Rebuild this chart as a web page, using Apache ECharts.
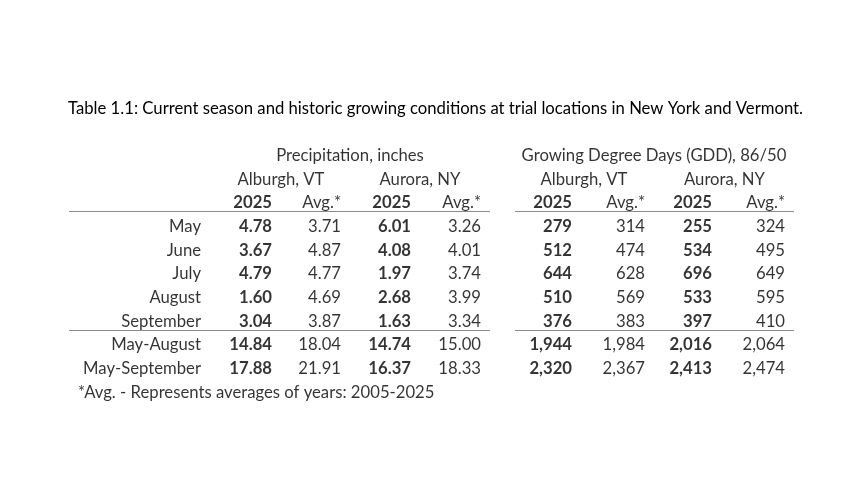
<!DOCTYPE html>
<html>
<head>
<meta charset="utf-8">
<script src="https://cdn.jsdelivr.net/npm/echarts@6/dist/echarts.min.js"></script>
<style>html,body{margin:0;padding:0;background:#fff;}#c{width:864px;height:504px;}</style>
</head>
<body>
<div id="c"></div>
<script>
// ---- data ----
const titleText = 'Table 1.1: Current season and historic growing conditions at trial locations in New York and Vermont.';
const groupHeaders = ['Precipitation, inches', 'Growing Degree Days (GDD), 86/50'];
const locations = ['Alburgh, VT', 'Aurora, NY'];
const subHeaders = ['2025', 'Avg.*'];
const rowLabels = ['May', 'June', 'July', 'August', 'September', 'May-August', 'May-September'];
const precipAlburgh2025 = [4.78, 3.67, 4.79, 1.60, 3.04, 14.84, 17.88];
const precipAlburghAvg  = [3.71, 4.87, 4.77, 4.69, 3.87, 18.04, 21.91];
const precipAurora2025  = [6.01, 4.08, 1.97, 2.68, 1.63, 14.74, 16.37];
const precipAuroraAvg   = [3.26, 4.01, 3.74, 3.99, 3.34, 15.00, 18.33];
const gddAlburgh2025 = [279, 512, 644, 510, 376, 1944, 2320];
const gddAlburghAvg  = [314, 474, 628, 569, 383, 1984, 2367];
const gddAurora2025  = [255, 534, 696, 533, 397, 2016, 2413];
const gddAuroraAvg   = [324, 495, 649, 595, 410, 2064, 2474];
const footnote = '*Avg. - Represents averages of years: 2005-2025';

// ---- layout (positions / styles) ----
const FONT = 'Lato';
const FS = 16.7;
const labelColRight = 201;
const colRight = [272, 341, 411, 481, 572, 645, 712, 785];
const groupCenter = [350, 654];
const locCenter = [281, 420, 584, 724.5];
const footLeft = 78;
const ruleSegments = [[69, 490], [515, 794]];
const ruleRows = [2.34, 7.36];
const HEAD_ROWS = 3;

// ---- build ----
const columns = [
  {vals: precipAlburgh2025, bold: true, fmt: v => v.toFixed(2)},
  {vals: precipAlburghAvg, bold: false, fmt: v => v.toFixed(2)},
  {vals: precipAurora2025, bold: true, fmt: v => v.toFixed(2)},
  {vals: precipAuroraAvg, bold: false, fmt: v => v.toFixed(2)},
  {vals: gddAlburgh2025, bold: true, fmt: v => v.toLocaleString('en-US')},
  {vals: gddAlburghAvg, bold: false, fmt: v => v.toLocaleString('en-US')},
  {vals: gddAurora2025, bold: true, fmt: v => v.toLocaleString('en-US')},
  {vals: gddAuroraAvg, bold: false, fmt: v => v.toLocaleString('en-US')}
];

function textSeries(name, data, align, bold) {
  return {
    type: 'scatter', name: name, symbolSize: 0, silent: true,
    data: data,
    label: {
      show: true, position: 'inside', align: align, verticalAlign: 'middle',
      fontFamily: FONT, fontSize: FS, color: '#000', fontWeight: bold ? 'bold' : 'normal',
      formatter: p => p.data.t
    }
  };
}

const series = [];
// row labels
series.push(textSeries('rows', rowLabels.map((r, i) => ({value: [labelColRight, HEAD_ROWS + i], t: r})), 'right', false));
// value columns
columns.forEach((c, ci) => {
  series.push(textSeries('col' + ci, c.vals.map((v, i) => ({value: [colRight[ci], HEAD_ROWS + i], t: c.fmt(v)})), 'right', c.bold));
  series.push(textSeries('sub' + ci, [{value: [colRight[ci], 2], t: subHeaders[ci % 2]}], 'right', ci % 2 === 0));
});
// group headers and locations
series.push(textSeries('groups', groupHeaders.map((g, i) => ({value: [groupCenter[i], 0], t: g})), 'center', false));
series.push(textSeries('locs', locCenter.map((x, i) => ({value: [x, 1], t: locations[i % 2]})), 'center', false));
// footnote
series.push(textSeries('foot', [{value: [footLeft, HEAD_ROWS + rowLabels.length], t: footnote}], 'left', false));
// rules
const ruleData = [];
ruleRows.forEach(y => ruleSegments.forEach(s => ruleData.push([{coord: [s[0], y]}, {coord: [s[1], y]}])));
series.push({
  type: 'scatter', name: 'rules', symbolSize: 0, data: [], silent: true,
  markLine: {silent: true, symbol: 'none', animation: false, label: {show: false},
    lineStyle: {color: '#8c8c8c', width: 1, type: 'solid'}, data: ruleData}
});

const totalRows = HEAD_ROWS + rowLabels.length + 1;
const chart = echarts.init(document.getElementById('c'));
chart.setOption({
  animation: false,
  backgroundColor: '#fff',
  title: {text: titleText, left: 63, top: 95,
    textStyle: {fontFamily: FONT, fontSize: FS, fontWeight: 'normal', color: '#000'}},
  grid: {left: 0, right: 0, top: 143.65, bottom: 99.65},
  xAxis: {type: 'value', min: 0, max: 864, show: false},
  yAxis: {type: 'value', min: -0.5, max: totalRows - 0.5, inverse: true, show: false},
  series: series
});
</script>
</body>
</html>
